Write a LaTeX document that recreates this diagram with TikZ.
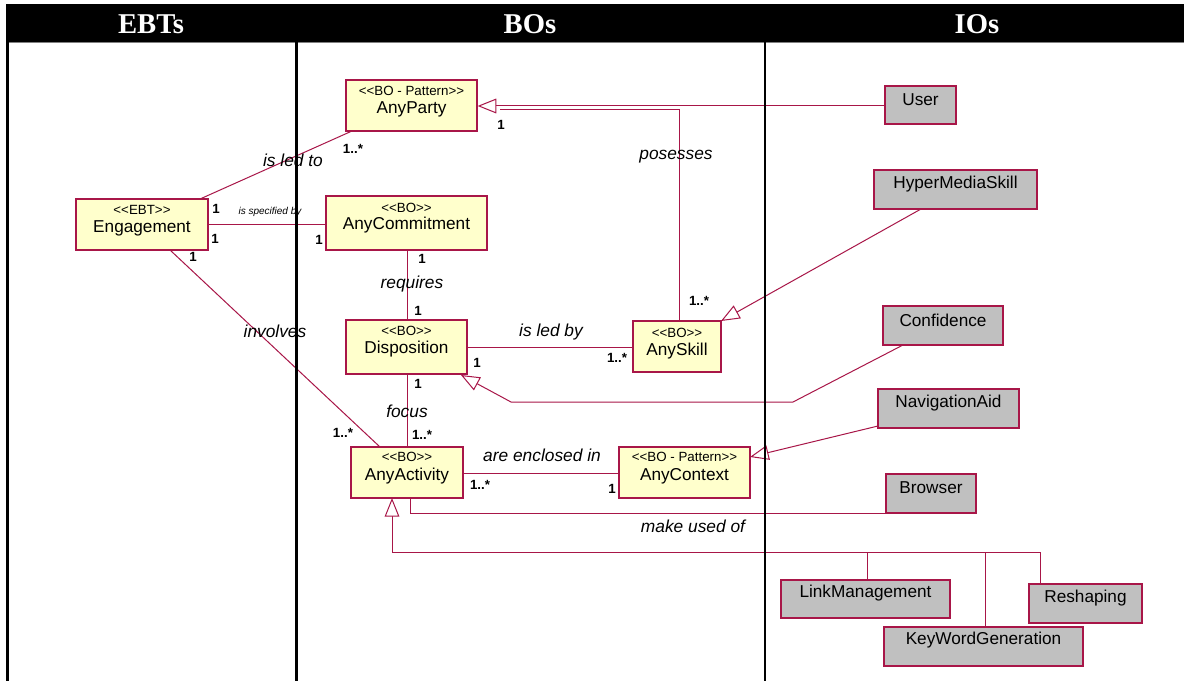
\documentclass[tikz,border=0pt]{standalone}
\usepackage{fontspec}
\setmainfont{Liberation Sans}
\newfontfamily\hdrfont{Liberation Serif}
\usetikzlibrary{arrows.meta,fit}
\definecolor{umlred}{RGB}{168,22,72}
\definecolor{boyellow}{RGB}{255,255,204}
\definecolor{iogray}{RGB}{192,192,192}
\newcommand\stl{<\kern0pt<\kern0pt}
\newcommand\str{\kern0pt>\kern0pt>}
\tikzset{
 box/.style={draw=umlred, line width=0.9pt, inner sep=0pt},
 bobox/.style={box, fill=boyellow},
 iobox/.style={box, fill=iogray},
 stereo/.style={font=\fontsize{10}{12}\selectfont, inner sep=0pt},
 bname/.style={font=\fontsize{12.9}{15}\selectfont, inner sep=0pt},
 lbl/.style={font=\fontsize{13}{15}\selectfont\itshape, inner sep=0pt},
 smalllbl/.style={font=\fontsize{7.5}{9}\selectfont\itshape, inner sep=0pt},
 mult/.style={font=\fontsize{10}{12}\selectfont\bfseries, inner sep=0pt},
 conn/.style={draw=umlred, line width=0.75pt},
 gen/.style={conn, -{Triangle[length=14pt,width=11pt,fill=white]}},
 lane/.style={line width=2pt, draw=black},
 hdr/.style={font=\hdrfont\fontsize{21.5}{24}\selectfont\bfseries, text=white, inner sep=0pt},
}
\begin{document}
\begin{tikzpicture}[x=0.75pt,y=-0.75pt]
\useasboundingbox (0,0) rectangle (1184,681);
\fill[white] (0,0) rectangle (1184,681);

% header
\fill[black] (6,4) rectangle (1184,42);
\draw[gray, line width=1pt] (6,42.5) -- (1184,42.5);
\node[hdr] (hE) at (151,24) {EBTs};
\node[hdr] (hB) at (530,24) {BOs};
\node[hdr] (hI) at (977,24) {IOs};

% boxes (geometry)
\node[bobox, fit={(346,80) (477,131)}] (party) {};
\node[bobox, fit={(326,196) (487,250)}] (commit) {};
\node[bobox, fit={(76,199) (208,250)}] (engage) {};
\node[bobox, fit={(346,320) (467,374)}] (dispo) {};
\node[bobox, fit={(633,321) (721,372)}] (skill) {};
\node[bobox, fit={(351,447) (463,498)}] (activity) {};
\node[bobox, fit={(619,447) (750,498)}] (context) {};
\node[iobox, fit={(885,86) (956,124)}] (user) {};
\node[iobox, fit={(874,170) (1037,209)}] (hyper) {};
\node[iobox, fit={(883,306) (1003,345)}] (confid) {};
\node[iobox, fit={(878,389) (1019,428)}] (navaid) {};
\node[iobox, fit={(886,474) (976,513)}] (browser) {};
\node[iobox, fit={(781,580) (950,618)}] (linkm) {};
\node[iobox, fit={(884,627) (1083,666)}] (keyword) {};
\node[iobox, fit={(1029,584) (1142,623)}] (reshape) {};

% connector helper coordinates
\coordinate (engTop) at (200,199);
\coordinate (partyBL) at (352,131);
\coordinate (engBot) at (170,250);
\coordinate (actTop) at (380,447);
\coordinate (skillTop) at (679,321);
\coordinate (posCorner) at (679,110);
\coordinate (posEnd) at (500,110);
\coordinate (hyperBot) at (921,209);
\coordinate (skillTR) at (721,321);
\coordinate (confBot) at (903,345);
\coordinate (confA) at (793,402);
\coordinate (confB) at (511,402);
\coordinate (dispoTip) at (461,375);
\coordinate (navL) at (878,426);
\coordinate (ctxR) at (750,457);
\coordinate (actB1) at (410,498);
\coordinate (bus) at (392,552);
\coordinate (actB2) at (392,498);
\coordinate (linkTop) at (867,580);
\coordinate (keyTop) at (985,627);
\coordinate (reshTop) at (1040,584);

% associations
\draw[conn] (engTop) -- (partyBL);
\draw[conn] (engage.east |- 0,224) -- (commit.west |- 0,224);
\draw[conn] (engBot) -- (actTop);
\draw[conn] (commit.south -| 407,0) -- (dispo.north -| 407,0);
\draw[conn] (dispo.south -| 407,0) -- (activity.north -| 407,0);
\draw[conn] (dispo.east |- 0,347) -- (skill.west |- 0,347);
\draw[conn] (activity.east |- 0,473) -- (context.west |- 0,473);
\draw[conn] (skillTop) -- (posCorner) -- (posEnd);
\draw[conn] (actB1) |- (browser.south west);

% generalizations
\draw[gen] (user.west |- 0,106) -- (party.east |- 0,106);
\draw[gen] (hyperBot) -- (skillTR);
\draw[gen] (confBot) -- (confA) -- (confB) -- (dispoTip);
\draw[gen] (navL) -- (ctxR);
\draw[gen] (bus) -- (actB2);
\draw[conn] (bus) -| (reshTop);
\draw[conn] (linkTop) -- (linkTop |- bus);
\draw[conn] (keyTop) -- (keyTop |- bus);

% swimlane lines
\draw[lane] (7.5,42) -- (7.5,681);
\draw[lane] (296.5,42) -- (296.5,681);
\draw[lane] (765,42) -- (765,681);

% box texts
\node[stereo] (partyS) at (411.5,91) {\stl BO - Pattern\str};
\node[bname] (partyN) at (411.5,109) {AnyParty};
\node[stereo] (commitS) at (406.5,208) {\stl BO\str};
\node[bname] (commitN) at (406.5,225) {AnyCommitment};
\node[stereo] (engageS) at (142,210) {\stl EBT\str};
\node[bname] (engageN) at (142,228) {Engagement};
\node[stereo] (dispoS) at (406.5,331) {\stl BO\str};
\node[bname] (dispoN) at (406.5,349) {Disposition};
\node[stereo] (skillS) at (677,333) {\stl BO\str};
\node[bname] (skillN) at (677,351) {AnySkill};
\node[stereo] (activityS) at (407,457) {\stl BO\str};
\node[bname] (activityN) at (407,476) {AnyActivity};
\node[stereo] (contextS) at (684.5,457) {\stl BO - Pattern\str};
\node[bname] (contextN) at (684.5,476) {AnyContext};
\node[bname] (userN) at (920.5,100) {User};
\node[bname] (hyperN) at (955.5,184) {HyperMediaSkill};
\node[bname] (confidN) at (943,320) {Confidence};
\node[bname] (navaidN) at (948.5,403) {NavigationAid};
\node[bname] (browserN) at (931,488) {Browser};
\node[bname] (linkmN) at (865.5,593) {LinkManagement};
\node[bname] (keywordN) at (983.5,640) {KeyWordGeneration};
\node[bname] (reshapeN) at (1085.5,598) {Reshaping};

% association labels
\node[lbl] (lLedTo) at (293,160) {is led to};
\node[smalllbl] (lSpec) at (270,212) {is specified by};
\node[lbl] (lInv) at (275,331) {involves};
\node[lbl] (lReq) at (412,284) {requires};
\node[lbl] (lLedBy) at (551,332) {is led by};
\node[lbl] (lFocus) at (407,411) {focus};
\node[lbl] (lEncl) at (542,455) {are enclosed in};
\node[lbl] (lMake) at (693,526) {make used of};
\node[lbl] (lPos) at (676,157) {posesses};

% multiplicities
\node[mult] (m1) at (353,149) {1..*};
\node[mult] (m2) at (216,209) {1};
\node[mult] (m3) at (215,239) {1};
\node[mult] (m4) at (319,240) {1};
\node[mult] (m5) at (193,257) {1};
\node[mult] (m6) at (343,433) {1..*};
\node[mult] (m7) at (422,259) {1};
\node[mult] (m8) at (418,311) {1};
\node[mult] (m9) at (477,363) {1};
\node[mult] (m10) at (617,358) {1..*};
\node[mult] (m11) at (418,384) {1};
\node[mult] (m12) at (422,435) {1..*};
\node[mult] (m13) at (480,485) {1..*};
\node[mult] (m14) at (612,489) {1};
\node[mult] (m15) at (501,125) {1};
\node[mult] (m16) at (699,301) {1..*};
\end{tikzpicture}
\end{document}
